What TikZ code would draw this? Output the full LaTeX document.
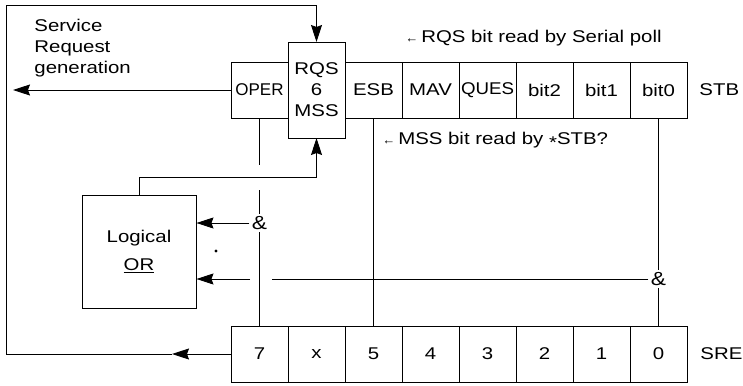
\documentclass[tikz,border=0pt]{standalone}
\usepackage{fontspec}
\setmainfont{Liberation Sans}[FakeStretch=1.2]
\newfontfamily\plainfont{Liberation Sans}
\newfontfamily\narrowfont{Liberation Sans}[FakeStretch=1.1]
\usetikzlibrary{arrows.meta,positioning}

\tikzset{
  cell/.style={draw,minimum width=57pt,minimum height=56pt,inner sep=0pt,outer sep=0pt},
  arr/.style={-{Stealth[length=17pt,width=11pt,inset=2pt]}},
  note/.style={anchor=west,inner sep=0pt},
}
\newcommand{\smallarr}{{\plainfont\fontsize{13}{13}\selectfont ←}\,}

\begin{document}
\begin{tikzpicture}[x=1pt,y=-1pt,line width=0.9pt,font=\fontsize{17}{21}\selectfont]
\useasboundingbox (0,0) rectangle (743,385);

\node[cell] (oper) at (259.5,90) {\plainfont OPER};
\node[cell,minimum height=96pt,align=center] (rqs) [right=0pt of oper] {RQS\\6\\MSS};
\node[cell] (esb) [right=0pt of rqs] {ESB};
\node[cell] (mav) [right=0pt of esb] {MAV};
\node[cell] (ques) [right=0pt of mav] {\narrowfont QUES};
\node[cell] (bittwo) [right=0pt of ques] {bit2};
\node[cell] (bitone) [right=0pt of bittwo] {bit1};
\node[cell] (bitzero) [right=0pt of bitone] {bit0};
\node[note] (stb) at (699,90) {STB};

\node[cell] (sreseven) at (259.5,354) {7};
\node[cell] (srex) [right=0pt of sreseven] {x};
\node[cell] (srefive) [right=0pt of srex] {5};
\node[cell] (srefour) [right=0pt of srefive] {4};
\node[cell] (srethree) [right=0pt of srefour] {3};
\node[cell] (sretwo) [right=0pt of srethree] {2};
\node[cell] (sreone) [right=0pt of sretwo] {1};
\node[cell] (srezero) [right=0pt of sreone] {0};
\node[note] (sre) at (700,354) {SRE};

\node[draw,minimum width=114pt,minimum height=113pt,align=center,inner sep=0pt] (logor) at (139,251.5) {Logical\\[7pt]\underline{OR}};
\node[inner sep=2pt,font=\fontsize{19}{19}\selectfont] (andone) at (259.5,223) {\&};
\node[inner sep=2pt,font=\fontsize{19}{19}\selectfont] (andtwo) at (658.5,279) {\&};

\node[note,align=left] (srqtext) at (34,48) {Service\\Request\\generation};
\node[note] (rqsnote) at (405,38) {\smallarr RQS bit read by Serial poll};
\node[note] (mssnote) at (382,140) {\smallarr MSS bit read by \raisebox{-4pt}{*}STB?};

\coordinate (srq) at (13,90);
\coordinate (loopmid) at (172,354);
\coordinate (loopbl) at (6,354);
\coordinate (looptl) at (6,5);
\coordinate (orup) at (139,177);
\coordinate (cutA) at (259.5,165);
\coordinate (cutB) at (259.5,190);
\coordinate (cutC) at (272,279);
\coordinate (cutD) at (250,279);

\draw[arr] (oper.west) -- (srq);
\draw[arr] (sreseven.west) -- (loopmid);
\draw[arr] (loopmid) -- (loopbl) -- (looptl) -| (rqs.north);
\draw[arr] (logor.north) -- (orup) -| (rqs.south);

\draw (oper.south) -- (cutA);
\draw (cutB) -- (andone.north);
\draw (sreseven.north) -- (andone.south);
\draw[arr] (andone.west) -- (logor.east |- andone.west);

\draw (bitzero.south) -- (andtwo.north);
\draw (srezero.north) -- (andtwo.south);
\draw (andtwo.west) -- (cutC);
\draw[arr] (cutD) -- (logor.east |- andtwo.west);

\draw (esb.south) -- (srefive.north);
\fill (216,251) circle (1.6pt);

\end{tikzpicture}
\end{document}
